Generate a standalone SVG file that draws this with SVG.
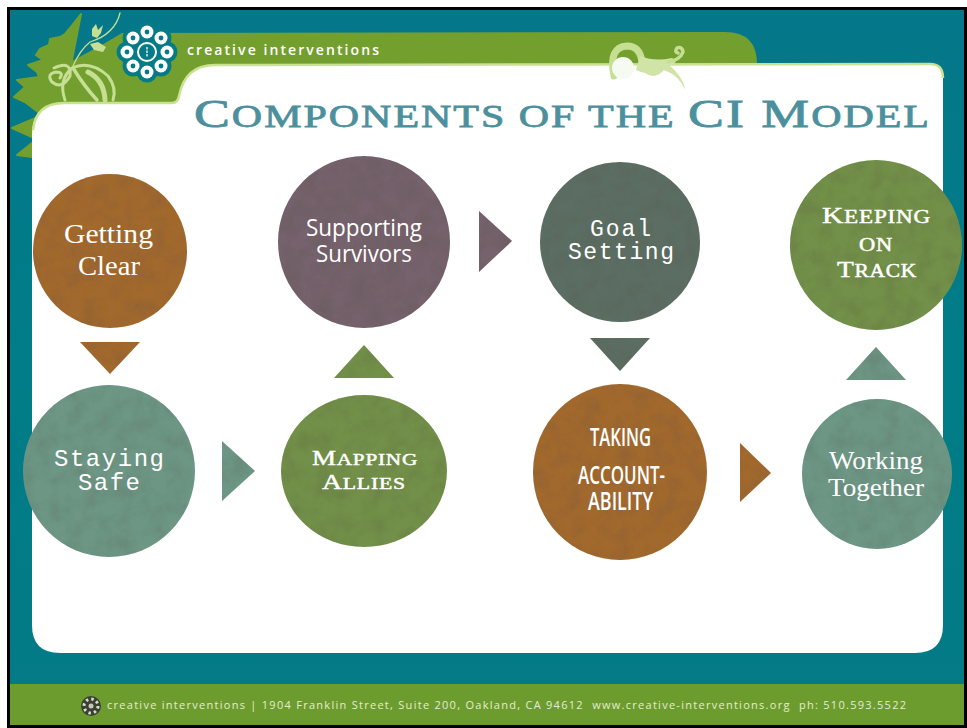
<svg xmlns="http://www.w3.org/2000/svg" width="967" height="728" viewBox="0 0 967 728">
<style>
.serif{font-family:"Liberation Serif",serif;fill:#fff}
.mono{font-family:"Liberation Mono",monospace;fill:#fff}
.sans{font-family:"Open Sans","Liberation Sans",sans-serif;fill:#fff}
.sc{font-family:"Liberation Serif",serif;fill:#fff;stroke:#fff;stroke-width:.45}
.tx{filter:url(#tex)}
.brown{fill:#a2692f}.teal{fill:#6d9685}.mauve{fill:#75626c}.olive{fill:#72904a}.slate{fill:#5b6e64}
.vine{fill:none;stroke:#c6df93;stroke-linecap:round}
.ring{fill:#fff}.hole{fill:#047b86}
</style>
<defs>
<filter id="tex" x="-5%" y="-5%" width="110%" height="110%">
<feTurbulence type="fractalNoise" baseFrequency="0.06" numOctaves="4" seed="4" result="n"/>
<feColorMatrix in="n" type="matrix" values="0 0 0 0 0.1  0 0 0 0 0.08  0 0 0 0 0.05  0.45 0 0 0 -0.17" result="d"/>
<feComposite in="d" in2="SourceAlpha" operator="in" result="dm"/>
<feMerge><feMergeNode in="SourceGraphic"/><feMergeNode in="dm"/></feMerge>
</filter>
<linearGradient id="bg" x1="0" y1="0" x2="0" y2="1"><stop offset="0" stop-color="#05778a"/><stop offset="0.5" stop-color="#007d88"/><stop offset="1" stop-color="#047a85"/></linearGradient>
</defs>
<rect width="967" height="728" fill="#fff"/>
<g id="background">
<rect x="8" y="8" width="958" height="718" fill="url(#bg)"/>
<rect x="9" y="684" width="956" height="41" fill="#6d9c2e"/>
<path fill="#739f2f" stroke="#739f2f" stroke-width="2" stroke-linejoin="round" d="M81,14 70,28 65,34 60,37 50,39 49,45 40,49 36,55 43,60 28,65 37,72 39,77 17,80 25,87 14,97 25,102 38,112 45,114 38,117 12,128 32,137 40,140 32,143 17,155 32,157 60,110 72,60 Z"/>
<path fill="#739f2f" d="M70,62 100,46 122,33 725,32 Q757,32 757,64 V72 H190 V112 H45 Z"/>
<path fill="#fff" d="M930,64 Q943,64 943,78 V625 Q943,653 915,653 H60 Q32,653 32,625 V135 Q32,103 64,103 H172 Q178,103 179,96 Q185,65 215,65 Z"/>
<path fill="none" stroke="#c9e28f" stroke-width="2.5" d="M33,130 Q36,103 64,103 H172 Q178,103 179,96 Q185,65 215,65 L930,64 Q943,64 943,78"/>
<g id="vines">
<path class="vine" stroke-width="1.3" d="M73,66 Q80,50 90,42 Q115,34 120,13"/>
<path class="vine" stroke-width="3" d="M65,100 Q58,80 72,68 Q90,60 108,76 Q117,88 113,100"/>
<path class="vine" stroke-width="3" d="M54,68 Q72,60 70,76 Q62,90 52,82 Q46,74 56,72 Q64,72 60,78"/>
<path class="vine" stroke-width="3.5" d="M73,68 Q84,86 97,100"/>
<path class="vine" stroke-width="5" d="M88,72 Q104,80 105,100"/>
<path fill="#c6df93" d="M92,29 96,24 98,30 103,25 101,33 97,38 92,36 Z M90,44 98,42 106,47 103,52 94,50 Z"/>
</g>
<g id="swirl">
<path class="vine" stroke-width="7" d="M614,76 Q608,47 627,46 Q640,46 642,62"/>
<path fill="#cfe4a6" d="M640,56 Q655,62 672,58 Q680,62 670,66 Q678,72 684,84 L685,90 Q680,76 664,70 Q655,80 645,73 Q640,72 636,70 Z"/>
<path class="vine" stroke-width="3.5" d="M668,62 Q680,60 683,52 Q682,46 677,48 Q674,52 678,53"/>
<circle cx="623" cy="68" r="11" fill="#f6fbf2"/>
</g>
<rect x="8.5" y="8.5" width="957" height="718" fill="none" stroke="#000" stroke-width="3"/>
</g>
<g id="logo">
<g class="hole"><circle cx="147" cy="52" r="21"/>
<circle cx="147" cy="32" r="10.5"/><circle cx="161" cy="38" r="10.5"/><circle cx="167" cy="52" r="10.5"/><circle cx="161" cy="66" r="10.5"/><circle cx="147" cy="72" r="10.5"/><circle cx="133" cy="66" r="10.5"/><circle cx="127" cy="52" r="10.5"/><circle cx="133" cy="38" r="10.5"/></g>
<g class="ring"><circle cx="147" cy="32" r="6.5"/><circle cx="161" cy="38" r="6.5"/><circle cx="167" cy="52" r="6.5"/><circle cx="161" cy="66" r="6.5"/><circle cx="147" cy="72" r="6.5"/><circle cx="133" cy="66" r="6.5"/><circle cx="127" cy="52" r="6.5"/><circle cx="133" cy="38" r="6.5"/></g>
<g class="hole"><circle cx="147" cy="32" r="2.4"/><circle cx="161" cy="38" r="2.4"/><circle cx="167" cy="52" r="2.4"/><circle cx="161" cy="66" r="2.4"/><circle cx="147" cy="72" r="2.4"/><circle cx="133" cy="66" r="2.4"/><circle cx="127" cy="52" r="2.4"/><circle cx="133" cy="38" r="2.4"/></g>
<circle cx="147" cy="52" r="9" fill="none" stroke="#fff" stroke-width="2"/>
<path d="M147,47 V57" stroke="#cfe6e8" stroke-width="1.6" stroke-dasharray="2.5 1"/>
<text x="187" y="55" class="sans" font-size="14" font-weight="600" textLength="192" lengthAdjust="spacing">creative interventions</text>
</g>
<text id="title" x="194" y="127" fill="#4c909d" stroke="#4c909d" stroke-width=".8" font-family="'Liberation Serif',serif" font-size="32" letter-spacing="1.5" xml:space="preserve" textLength="737" lengthAdjust="spacingAndGlyphs"><tspan font-size="41">C</tspan>OMPONENTS OF THE <tspan font-size="41">CI M</tspan>ODEL</text>
<g id="connectors">
<polygon class="brown tx" points="80,342 140,342 110,374"/>
<polygon class="olive tx" points="334,378 394,378 364,345"/>
<polygon class="mauve tx" points="479,211 512,241 479,272"/>
<polygon class="slate tx" points="590,338 650,338 620,371"/>
<polygon class="teal tx" points="222,441 255,471 222,501"/>
<polygon class="brown tx" points="740,443 771,473 740,502"/>
<polygon class="teal tx" points="846,380 906,380 876,347"/>
</g>
<g id="getting-clear"><ellipse class="brown tx" cx="110" cy="251" rx="77" ry="77"/>
<text class="serif" x="64" y="243" font-size="28" textLength="89" lengthAdjust="spacingAndGlyphs">Getting</text>
<text class="serif" x="78" y="275" font-size="28" textLength="62" lengthAdjust="spacingAndGlyphs">Clear</text></g>
<g id="staying-safe"><ellipse class="teal tx" cx="109" cy="471" rx="86" ry="86"/>
<text class="mono" x="54" y="466" font-size="24" textLength="110">Staying</text>
<text class="mono" x="78" y="490" font-size="24" textLength="62">Safe</text></g>
<g id="supporting-survivors"><ellipse class="mauve tx" cx="364" cy="242" rx="86" ry="86"/>
<text class="sans" x="306" y="236" font-size="23" textLength="116" lengthAdjust="spacingAndGlyphs">Supporting</text>
<text class="sans" x="316" y="262" font-size="23" textLength="96" lengthAdjust="spacingAndGlyphs">Survivors</text></g>
<g id="mapping-allies"><ellipse class="olive tx" cx="364" cy="471" rx="83" ry="76"/>
<text class="sc" x="312" y="465" font-size="16.5" letter-spacing=".6" textLength="106" lengthAdjust="spacingAndGlyphs"><tspan font-size="21">M</tspan>APPING</text>
<text class="sc" x="322" y="489" font-size="16.5" letter-spacing=".6" textLength="84" lengthAdjust="spacingAndGlyphs"><tspan font-size="21">A</tspan>LLIES</text></g>
<g id="goal-setting"><ellipse class="slate tx" cx="620" cy="242" rx="80" ry="80"/>
<text class="mono" x="590" y="236" font-size="23" textLength="61">Goal</text>
<text class="mono" x="568" y="259" font-size="23" textLength="106">Setting</text></g>
<g id="taking-accountability"><ellipse class="brown tx" cx="620" cy="472" rx="87" ry="88"/>
<text class="sans" x="590" y="446" font-size="25" font-weight="600" textLength="61" lengthAdjust="spacingAndGlyphs">TAKING</text>
<text class="sans" x="578" y="484" font-size="25" font-weight="600" textLength="87" lengthAdjust="spacingAndGlyphs">ACCOUNT-</text>
<text class="sans" x="588" y="510" font-size="25" font-weight="600" textLength="65" lengthAdjust="spacingAndGlyphs">ABILITY</text></g>
<g id="keeping-on-track"><ellipse class="olive tx" cx="876" cy="245" rx="86" ry="85"/>
<text class="sc" x="822" y="223" font-size="18" letter-spacing=".6" textLength="109" lengthAdjust="spacingAndGlyphs"><tspan font-size="23">K</tspan>EEPING</text>
<text class="sc" x="859" y="251" font-size="18" letter-spacing=".6" textLength="34" lengthAdjust="spacingAndGlyphs">ON</text>
<text class="sc" x="837" y="277" font-size="18" letter-spacing=".6" textLength="80" lengthAdjust="spacingAndGlyphs"><tspan font-size="23">T</tspan>RACK</text></g>
<g id="working-together"><ellipse class="teal tx" cx="877" cy="474" rx="75" ry="75"/>
<text class="serif" x="829" y="469" font-size="26" textLength="94" lengthAdjust="spacingAndGlyphs">Working</text>
<text class="serif" x="828" y="496" font-size="26" textLength="96" lengthAdjust="spacingAndGlyphs">Together</text></g>
<g id="footer">
<circle cx="91" cy="706" r="10" fill="#3a4034"/>
<circle cx="91" cy="706" r="7" fill="none" stroke="#d8dccb" stroke-width="3" stroke-dasharray="2.5 3"/>
<circle cx="91" cy="706" r="2.5" fill="#c4c8b8"/>
<text x="107" y="709" font-family="'Open Sans','Liberation Sans',sans-serif" font-size="11" fill="#e3ecd0" textLength="799" lengthAdjust="spacing" xml:space="preserve">creative interventions | 1904 Franklin Street, Suite 200, Oakland, CA 94612  www.creative-interventions.org  ph: 510.593.5522</text>
</g>
</svg>
